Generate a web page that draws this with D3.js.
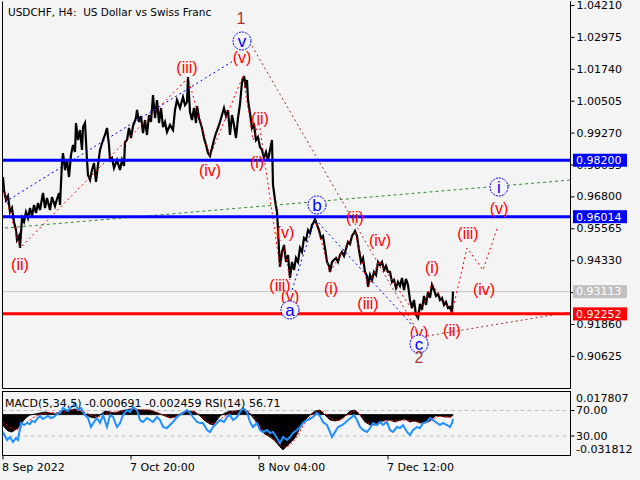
<!DOCTYPE html>
<html><head><meta charset="utf-8">
<script src="https://cdn.jsdelivr.net/npm/d3@7"></script>
<style>body{margin:0;background:#f4f4f4;}svg{display:block}</style>
</head><body><svg id="c" width="640" height="480"></svg>
<script>
// ---------- DATA ----------
const title = "USDCHF, H4:  US Dollar vs Swiss Franc";
const dateTickLabels = ["8 Sep 2022", "7 Oct 20:00", "8 Nov 04:00", "7 Dec 12:00"];
const dateTickBars = [0, 128, 256, 385];
const priceTicks = [1.04210, 1.02975, 1.01740, 1.00505, 0.99270, 0.98035, 0.96800, 0.95565, 0.94330, 0.93095, 0.91860, 0.90625];

// price path (bar index, price)
const priceBars = [0,1,3,5,7,9,11,13,14,16,17,19,21,23,25,27,29,31,33,35,37,40,42,44,47,49,52,54,56,57,59,60,62,64,66,68,70,72,73,75,77,79,80,82,84,85,87,89,91,93,95,97,100,102,104,106,107,109,111,114,117,119,121,122,124,126,128,130,133,134,136,138,140,142,144,146,148,150,152,154,156,158,160,162,164,167,170,172,174,177,180,182,184,185,187,189,191,193,194,196,199,201,203,205,207,209,211,213,215,217,219,221,223,225,227,229,231,233,235,237,239,241,243,244,245,247,249,251,253,255,257,259,261,263,265,267,269,270,272,274,275,276,277,279,281,283,285,287,289,291,293,295,297,299,301,303,305,307,309,311,312,314,316,318,320,322,324,326,327,329,331,333,335,337,339,341,343,345,347,349,351,352,354,356,358,360,362,364,365,367,369,371,373,375,377,379,381,383,385,387,389,391,393,395,397,399,401,403,405,407,409,411,413,415,417,419,421,423,425,427,429,431,433,435,437,439,441,443,445,447,449,450];
const priceVals = [0.97551,0.97048,0.96661,0.96816,0.96197,0.96351,0.95810,0.95500,0.95113,0.95268,0.94803,0.95964,0.95810,0.96197,0.95964,0.96351,0.96042,0.96468,0.96158,0.96545,0.96274,0.96932,0.96351,0.96739,0.96274,0.96777,0.96429,0.96700,0.96932,0.96468,0.98132,0.98480,0.97822,0.98209,0.97551,0.98403,0.98790,0.98519,0.99641,0.98983,0.99370,0.98596,0.99486,0.99641,0.98209,0.97629,0.97435,0.97822,0.98093,0.97358,0.98016,0.98596,0.98983,0.99177,0.99448,0.98790,0.98209,0.98287,0.97900,0.98209,0.97822,0.98209,0.97977,0.98906,0.98983,0.99448,0.99061,0.99525,0.99835,1.00145,0.99680,0.99912,0.99254,0.99757,0.99177,0.99951,0.99680,1.00725,0.99835,1.00532,0.99641,1.00222,0.99486,0.99680,0.99293,0.99564,0.99370,1.00145,1.00532,1.00222,1.00648,1.00338,1.00454,1.01423,1.00067,0.99757,1.00222,0.99641,1.00300,0.99835,0.99448,0.99061,0.98790,0.98480,0.98364,0.98674,0.98983,0.99254,0.99448,0.99680,0.99951,1.00222,0.99912,1.00145,0.99177,0.99951,0.99564,0.99061,0.99835,1.00377,1.01229,1.01461,1.00997,1.01306,1.00532,1.00029,0.99448,0.99564,0.98983,0.99099,0.98712,0.98596,0.98287,0.98519,0.98209,0.98596,0.98983,0.97242,0.96661,0.96197,0.95500,0.94726,0.94068,0.94649,0.94919,0.94262,0.94532,0.93643,0.94262,0.93952,0.94416,0.94262,0.94803,0.94649,0.95190,0.95113,0.95500,0.95384,0.95693,0.95810,0.95926,0.95693,0.95500,0.95190,0.95268,0.94803,0.94262,0.94107,0.93875,0.94262,0.94339,0.94416,0.94262,0.94532,0.94649,0.94494,0.94765,0.95036,0.94958,0.95268,0.95384,0.95461,0.95268,0.94726,0.94262,0.94416,0.93875,0.93720,0.93294,0.93759,0.93565,0.93875,0.93759,0.94262,0.94145,0.94262,0.93952,0.94107,0.93875,0.93875,0.93488,0.93565,0.93256,0.93488,0.93333,0.93643,0.93178,0.93604,0.93372,0.92791,0.92482,0.92791,0.92211,0.92095,0.92637,0.92405,0.92946,0.92598,0.93101,0.92869,0.93372,0.93178,0.92946,0.93024,0.92791,0.92869,0.92598,0.92714,0.92482,0.92521,0.92288,0.93113];

// horizontal levels
const blueLevels = [0.98200, 0.96014];
const redLevels = [0.92252];
const bidLevel = 0.93113;

// trend / wave lines (bar, price)
const greenLineBars = [2, 568];
const greenLinePrices = [0.95577, 0.97435];
const blueWave1Bars = [2, 230];
const blueWave1Prices = [0.96583, 1.02042];
const blueAbcBars = [289, 312, 411];
const blueAbcPrices = [0.93178, 0.95926, 0.91744];
const brownBars = [249, 415];
const brownPrices = [1.02623, 0.91550];
const brown2Bars = [424, 568];
const brown2Prices = [0.91396, 0.92327];
const redWaveABars = [0, 17, 185, 207, 240];
const redWaveAPrices = [0.97126, 0.94803, 1.01384, 0.98364, 1.01461];
const redWaveBBars = [240, 250, 256, 277, 281, 287];
const redWaveBPrices = [1.01461, 0.98983, 0.99680, 0.94068, 0.94880, 0.93565];
const redWaveCBars = [312, 327, 352, 365, 376, 415, 429, 449, 464, 480, 495];
const redWaveCPrices = [0.95926, 0.93875, 0.95461, 0.93294, 0.94300, 0.92095, 0.93410, 0.92288, 0.94803, 0.93952, 0.95654];

// wave labels
const labelTexts  = ["1","v","(v)","(iii)","(ii)","(iv)","(i)","(ii)","(v)","(iii)","(v)","a","b","(ii)","(iv)","(i)","(iii)","(i)","(v)","c","2","(ii)","(iii)","(iv)","(v)","i"];
const labelKinds  = ["brown","circle","red","red","red","red","red","red","red","red","red","circle","circle","red","red","red","red","red","red","circle","brown","red","red","red","red","circle"];
const labelBars   = [238,239,239,184,257,207,254,17,282,277,287,287,314,352,377,328,365,429,416,416,416,449,465,481,496,496];
const labelPrices = [1.03707,1.02816,1.02197,1.01810,0.99835,0.97822,0.98132,0.94183,0.95422,0.93372,0.92946,0.92405,0.96468,0.96002,0.95113,0.93256,0.92675,0.94068,0.91550,0.91086,0.90582,0.91628,0.95384,0.93217,0.96351,0.97164];

// indicator window
const macdText = "MACD(5,34,5) -0.000691 -0.002459 RSI(14) 56.71";
const macdBars = [0,2,5,9,12,15,18,21,24,27,32,37,42,47,52,57,62,67,72,77,82,87,92,97,102,107,112,117,122,127,132,137,142,147,152,157,162,167,172,177,182,187,192,197,202,207,210,214,217,222,227,232,237,242,247,252,257,262,267,272,277,280,283,287,292,297,302,307,312,317,322,327,332,337,342,347,352,357,362,367,372,377,382,387,392,397,402,407,412,417,422,427,432,437,442,447,450];
const macdVals = [-0.0082,-0.0106,-0.0129,-0.0137,-0.0121,-0.0106,-0.0074,-0.0043,-0.0019,-0.0003,0.0005,0.0013,0.0021,0.0013,0.0005,0.0021,0.0036,0.0036,0.0044,0.0028,0.0005,-0.0019,-0.0027,-0.0003,0.0028,0.0021,0.0013,0.0028,0.0036,0.0044,0.0044,0.0036,0.0036,0.0036,0.0021,0.0005,-0.0011,-0.0027,-0.0019,0.0005,0.0028,0.0028,0.0021,-0.0011,-0.0050,-0.0074,-0.0082,-0.0043,-0.0011,0.0013,0.0028,0.0028,0.0036,0.0044,0.0005,-0.0043,-0.0121,-0.0153,-0.0176,-0.0208,-0.0255,-0.0279,-0.0255,-0.0224,-0.0184,-0.0106,-0.0043,-0.0003,0.0028,0.0036,-0.0003,-0.0043,-0.0050,-0.0043,-0.0011,0.0028,0.0036,-0.0003,-0.0058,-0.0082,-0.0082,-0.0058,-0.0043,-0.0043,-0.0058,-0.0043,-0.0035,-0.0058,-0.0050,-0.0066,-0.0066,-0.0050,-0.0011,-0.0011,-0.0019,-0.0019,-0.000691];
const signalBars = [0,5,10,15,20,25,30,35,40,45,50,55,60,65,70,75,80,85,90,95,100,105,110,115,120,125,130,135,140,145,150,155,160,165,170,175,180,185,190,195,200,205,210,215,220,225,230,235,240,245,250,255,260,265,270,275,280,285,290,295,300,305,310,315,320,325,330,335,340,345,350,355,360,365,370,375,380,385,390,395,400,405,410,415,420,425,430,435,440,445,450];
const signalVals = [-0.0060,-0.0090,-0.0115,-0.0115,-0.0090,-0.0055,-0.0025,-0.0005,0.0008,0.0014,0.0015,0.0012,0.0018,0.0028,0.0036,0.0036,0.0025,0.0008,-0.0012,-0.0018,-0.0005,0.0012,0.0020,0.0020,0.0026,0.0036,0.0040,0.0040,0.0037,0.0036,0.0030,0.0015,-0.0002,-0.0018,-0.0022,-0.0008,0.0012,0.0024,0.0026,0.0010,-0.0025,-0.0058,-0.0072,-0.0055,-0.0020,0.0005,0.0022,0.0030,0.0038,0.0028,-0.0010,-0.0070,-0.0125,-0.0160,-0.0190,-0.0225,-0.0255,-0.0250,-0.0215,-0.0160,-0.0090,-0.0035,0.0005,0.0028,0.0025,-0.0010,-0.0040,-0.0045,-0.0030,0.0002,0.0025,0.0020,-0.0025,-0.0065,-0.0078,-0.0072,-0.0055,-0.0045,-0.0050,-0.0050,-0.0042,-0.0048,-0.0052,-0.0058,-0.0063,-0.0060,-0.0035,-0.0015,-0.0013,-0.0017,-0.002459];
const rsiBars = [0,4,7,10,13,15,18,21,24,27,29,32,34,37,40,43,45,48,51,54,57,60,63,65,67,70,72,75,78,82,85,88,91,94,97,100,104,107,110,114,117,120,124,127,130,134,137,140,144,147,150,154,157,160,164,167,170,174,177,180,184,187,190,194,197,200,204,207,210,214,217,221,224,227,230,234,237,240,244,247,250,254,257,260,264,267,270,274,277,280,284,287,290,294,297,300,304,307,310,314,317,320,324,327,329,332,335,339,342,345,349,351,354,357,360,364,367,370,374,377,380,384,387,390,394,397,400,404,407,410,414,417,420,424,427,430,434,437,440,444,447,449,450];
const rsiVals = [36.3,23.7,28.4,20.6,26.9,23.7,50.4,47.2,50.4,48.8,53.5,52.0,56.7,61.4,56.7,59.8,61.4,58.2,59.8,64.5,66.1,73.9,70.8,69.2,73.9,77.1,81.8,70.8,73.9,62.9,58.2,44.1,52.0,58.2,50.4,62.9,44.1,62.9,59.8,44.1,50.4,62.9,70.8,67.6,75.5,70.8,55.1,52.0,58.2,55.1,52.0,59.8,55.1,44.1,42.5,47.2,52.0,59.8,62.9,66.1,70.8,66.1,59.8,52.0,50.4,50.4,39.4,36.3,44.1,50.4,55.1,52.0,59.8,62.9,55.1,59.8,67.6,73.9,67.6,52.0,44.1,50.4,39.4,36.3,39.4,34.7,36.3,26.9,19.0,28.4,23.7,28.4,34.7,39.4,44.1,50.4,55.1,56.7,59.8,66.1,61.4,52.0,47.2,36.3,28.4,36.3,44.1,47.2,50.4,55.1,59.8,62.9,55.1,44.1,39.4,36.3,42.5,50.4,47.2,52.0,47.2,52.0,39.4,36.3,44.1,42.5,47.2,36.3,31.6,39.4,44.1,42.5,50.4,52.0,58.2,55.1,50.4,47.2,50.4,47.2,44.1,50.4,56.71];
const rsiLevels = [70, 30];
const indicatorAxisLabels = ["0.017807", "70.00", "30.00", "-0.031812"];

// ---------- DRAW ----------
const svg = d3.select("#c");
const BG = "#f4f4f4";
const L = 2.5, R = 570.5, T = 1.5, B = 388.5, MT = 391.5, MB = 455.5;
const font = "DejaVu Sans, Verdana, sans-serif";

const x = d3.scaleLinear().domain([0, 568]).range([3, 571]);
const y = d3.scaleLinear().domain([0.90625, 1.04210]).range([355.9, 5]);
const yM = d3.scaleLinear().domain([-0.031812, 0.017807]).range([455, 392]);
const yR = d3.scaleLinear().domain([30, 70]).range([436, 410.5]);

svg.append("rect").attr("width", 640).attr("height", 480).attr("fill", BG);
const defs = svg.append("defs");
defs.append("clipPath").attr("id", "mainClip").append("rect")
  .attr("x", L).attr("y", T).attr("width", R - L).attr("height", B - T);
defs.append("clipPath").attr("id", "subClip").append("rect")
  .attr("x", L).attr("y", MT).attr("width", R - L).attr("height", MB - MT);

const main = svg.append("g").attr("clip-path", "url(#mainClip)");

// bid line
main.append("line").attr("x1", L).attr("x2", R).attr("y1", y(bidLevel)).attr("y2", y(bidLevel))
  .attr("stroke", "#c0c0c0").attr("stroke-width", 1);

// price
const priceData = priceBars.map((b, i) => [b, priceVals[i]]);
main.append("path").datum(priceData)
  .attr("d", d3.line().x(d => x(d[0])).y(d => y(d[1])))
  .attr("fill", "none").attr("stroke", "#000").attr("stroke-width", 2.2).attr("stroke-linejoin", "miter");

function polyline(g, bars, prices, color, dash, w) {
  const data = bars.map((b, i) => [b, prices[i]]);
  g.append("path").datum(data)
    .attr("d", d3.line().x(d => x(d[0])).y(d => y(d[1])))
    .attr("fill", "none").attr("stroke", color).attr("stroke-width", w || 1)
    .attr("stroke-dasharray", dash);
}
polyline(main, greenLineBars, greenLinePrices, "#2e8b2e", "3,3");
polyline(main, blueWave1Bars, blueWave1Prices, "#0000ff", "2,3");
polyline(main, blueAbcBars, blueAbcPrices, "#0000ff", "2,3");
polyline(main, brownBars, brownPrices, "#a52a2a", "2,3");
polyline(main, brown2Bars, brown2Prices, "#a52a2a", "2,3");
polyline(main, redWaveABars, redWaveAPrices, "#ff0000", "2,3");
polyline(main, redWaveBBars, redWaveBPrices, "#ff0000", "2,3");
polyline(main, redWaveCBars, redWaveCPrices, "#ff0000", "2,3");

// levels
blueLevels.forEach(v => main.append("line").attr("x1", L).attr("x2", R).attr("y1", y(v)).attr("y2", y(v))
  .attr("stroke", "#0000ff").attr("stroke-width", 3));
redLevels.forEach(v => main.append("line").attr("x1", L).attr("x2", R).attr("y1", y(v)).attr("y2", y(v))
  .attr("stroke", "#ff0000").attr("stroke-width", 3));

// labels
labelTexts.forEach((t, i) => {
  const cx = x(labelBars[i]), cy = y(labelPrices[i]);
  const k = labelKinds[i];
  if (k === "circle") {
    main.append("circle").attr("cx", cx).attr("cy", cy).attr("r", 9)
      .attr("fill", BG).attr("stroke", "#0000ff").attr("stroke-width", 1).attr("stroke-dasharray", "2,1");
    main.append("text").attr("x", cx).attr("y", cy).attr("dy", "0.35em").attr("text-anchor", "middle")
      .attr("font-family", "Liberation Sans, Arial, sans-serif").attr("font-size", 17).attr("fill", "#0000ff").text(t);
  } else {
    main.append("text").attr("x", cx).attr("y", cy).attr("dy", "0.35em").attr("text-anchor", "middle")
      .attr("font-family", "Liberation Sans, Arial, sans-serif").attr("font-size", 16)
      .attr("fill", k === "brown" ? "#a83a32" : "#ff0000").text(t);
  }
});

// title
svg.append("text").attr("x", 8).attr("y", 16).attr("font-family", font).attr("font-size", 10.5)
  .attr("fill", "#000").attr("xml:space", "preserve").style("white-space", "pre").text(title);

// frames
svg.append("path").attr("d", `M${L},${T}V${B}H${R}V${T}`).attr("fill", "none").attr("stroke", "#000");
svg.append("rect").attr("x", L).attr("y", MT).attr("width", R - L).attr("height", MB - MT)
  .attr("fill", "none").attr("stroke", "#000");

// price axis
const yAxis = d3.axisRight(y).tickValues(priceTicks).tickSize(4).tickPadding(2).tickFormat(d3.format(".5f"));
const ga = svg.append("g").attr("transform", `translate(${R},0)`).call(yAxis);
ga.select(".domain").attr("d", `M0,${T}V${B}`);
ga.selectAll("text").attr("font-family", font).attr("font-size", 11).attr("fill", "#000");

// price tag boxes
const tags = [[blueLevels[0], "#0000ff"], [blueLevels[1], "#0000ff"], [bidLevel, "#c0c0c0"], [redLevels[0], "#ff0000"]];
tags.forEach(([v, c]) => {
  svg.append("rect").attr("x", 573).attr("y", y(v) - 6.5).attr("width", 54).attr("height", 13).attr("fill", c);
  svg.append("text").attr("x", 576).attr("y", y(v)).attr("dy", "0.35em").attr("font-family", font)
    .attr("font-size", 11).attr("fill", "#fff").text(d3.format(".5f")(v));
});

// ---------- indicator window ----------
const sub = svg.append("g").attr("clip-path", "url(#subClip)");
rsiLevels.forEach(v => sub.append("line").attr("x1", L).attr("x2", R).attr("y1", yR(v)).attr("y2", yR(v))
  .attr("stroke", "#c0c0c0").attr("stroke-dasharray", "4,3"));
const macdData = macdBars.map((b, i) => [b, macdVals[i]]);
sub.append("path").datum(macdData)
  .attr("d", d3.area().x(d => x(d[0])).y0(yM(0)).y1(d => yM(d[1])))
  .attr("fill", "#000").attr("stroke", "#000").attr("stroke-width", 0.8);
const sigData = signalBars.map((b, i) => [b, signalVals[i]]);
sub.append("path").datum(sigData)
  .attr("d", d3.line().x(d => x(d[0])).y(d => yM(d[1])))
  .attr("fill", "none").attr("stroke", "#ff0000").attr("stroke-dasharray", "2,2");
const rsiData = rsiBars.map((b, i) => [b, rsiVals[i]]);
sub.append("path").datum(rsiData)
  .attr("d", d3.line().x(d => x(d[0])).y(d => yR(d[1])))
  .attr("fill", "none").attr("stroke", "#1e90ff").attr("stroke-width", 2);

svg.append("text").attr("x", 5).attr("y", 407).attr("font-family", font).attr("font-size", 11)
  .attr("fill", "#000").text(macdText);

// indicator axis labels
const indY = [yM(0.017807) + 6, yR(70), yR(30), yM(-0.031812) - 6];
indicatorAxisLabels.forEach((t, i) => {
  svg.append("text").attr("x", 576).attr("y", indY[i]).attr("dy", "0.35em").attr("font-family", font)
    .attr("font-size", 11).attr("fill", "#000").text(t);
});
[yR(70), yR(30)].forEach(v => svg.append("line").attr("x1", R).attr("x2", R + 4).attr("y1", v).attr("y2", v).attr("stroke", "#000"));

// date axis
dateTickBars.forEach((b, i) => {
  svg.append("line").attr("x1", x(b)).attr("x2", x(b)).attr("y1", MB).attr("y2", MB + 4).attr("stroke", "#000");
  svg.append("text").attr("x", x(b) - 1).attr("y", 471).attr("font-family", font).attr("font-size", 11)
    .attr("fill", "#000").text(dateTickLabels[i]);
});
</script></body></html>
